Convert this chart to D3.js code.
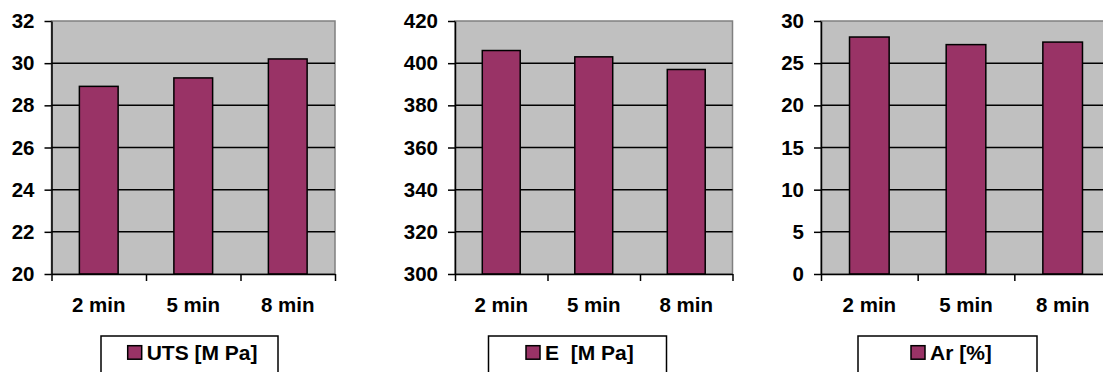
<!DOCTYPE html>
<html><head><meta charset="utf-8">
<script src="https://cdn.jsdelivr.net/npm/d3@7/dist/d3.min.js"></script>
<style>
body{margin:0;background:#fff}
svg{display:block}
text{font-family:"Liberation Sans",Arial,sans-serif;font-weight:bold;fill:#000;white-space:pre}
</style>
</head><body>
<svg id="c" width="1103" height="372"></svg>
<script>
// ---- data ----
const categories = ["2 min", "5 min", "8 min"];
const utsValues = [28.9, 29.3, 30.2];
const eValues = [406, 403, 397];
const arValues = [28.1, 27.2, 27.5];
const utsTicks = [20, 22, 24, 26, 28, 30, 32];
const eTicks = [300, 320, 340, 360, 380, 400, 420];
const arTicks = [0, 5, 10, 15, 20, 25, 30];
const seriesNames = ["UTS [M Pa]", "E  [M Pa]", "Ar [%]"];

// ---- layout ----
const TOP = 21, BOTTOM = 274, FS = 20.5, LFS = 21;
const panels = [
  {values: utsValues, ticks: utsTicks, name: seriesNames[0], x0: 51.5, x1: 335, lx0: 101, lx1: 278, sq: 127.7},
  {values: eValues, ticks: eTicks, name: seriesNames[1], x0: 455, x1: 732.5, lx0: 488.5, lx1: 666.5, sq: 526},
  {values: arValues, ticks: arTicks, name: seriesNames[2], x0: 821, x1: 1111, lx0: 858, lx1: 1037, sq: 911}
];
const BAR = "#993366", BG = "#c0c0c0", BORDER = "#808080";

const svg = d3.select("#c");

panels.forEach(p => {
  const g = svg.append("g");
  const x = d3.scaleBand().domain(categories).range([p.x0, p.x1]).paddingInner(0.59).paddingOuter(0.295);
  const xb = d3.scaleLinear().domain([0, categories.length]).range([p.x0, p.x1]);
  const y = d3.scaleLinear().domain(d3.extent(p.ticks)).range([BOTTOM, TOP]);

  // plot background
  g.append("rect").attr("x", p.x0).attr("y", TOP).attr("width", p.x1 - p.x0).attr("height", BOTTOM - TOP)
    .attr("fill", BG).attr("stroke", BORDER).attr("stroke-width", 1.5);

  // gridlines
  g.append("g").selectAll("line").data(p.ticks.slice(1, -1)).join("line")
    .attr("x1", p.x0).attr("x2", p.x1).attr("y1", d => y(d)).attr("y2", d => y(d))
    .attr("stroke", "#000").attr("stroke-width", 1.5);

  // bars
  g.append("g").selectAll("rect").data(p.values).join("rect")
    .attr("x", (d, i) => x(categories[i])).attr("width", x.bandwidth())
    .attr("y", d => y(d)).attr("height", d => BOTTOM - y(d))
    .attr("fill", BAR).attr("stroke", "#000").attr("stroke-width", 1.5);

  // y axis
  const ya = g.append("g").attr("transform", `translate(${p.x0},0)`)
    .call(d3.axisLeft(y).tickValues(p.ticks).tickSize(7).tickSizeOuter(0).tickPadding(10));
  ya.select(".domain").attr("stroke", "#000").attr("stroke-width", 1.5);
  ya.selectAll(".tick line").attr("stroke", "#000").attr("stroke-width", 1.5);
  ya.selectAll("text").style("font-size", FS + "px");

  // x axis boundary ticks
  const xt = g.append("g").attr("transform", `translate(0,${BOTTOM})`)
    .call(d3.axisBottom(xb).tickValues(d3.range(categories.length + 1)).tickSize(7).tickSizeOuter(0).tickFormat(""));
  xt.select(".domain").attr("stroke", "#000").attr("stroke-width", 1.5);
  xt.selectAll(".tick line").attr("stroke", "#000").attr("stroke-width", 1.5);

  // x labels
  const xl = g.append("g").attr("transform", `translate(0,${BOTTOM})`)
    .call(d3.axisBottom(x).tickSize(0).tickPadding(0));
  xl.select(".domain").remove();
  xl.selectAll("text").attr("y", 37.5).attr("dy", null).style("font-size", FS + "px");
  svg.selectAll("g[font-family]").attr("font-family", null).attr("font-size", null);

  // legend
  const lg = g.append("g");
  lg.append("rect").attr("x", p.lx0).attr("y", 336).attr("width", p.lx1 - p.lx0).attr("height", 60)
    .attr("fill", "#fff").attr("stroke", "#000").attr("stroke-width", 1.5);
  lg.append("rect").attr("x", p.sq).attr("y", 345.7).attr("width", 14).attr("height", 13.5)
    .attr("fill", BAR).attr("stroke", "#000").attr("stroke-width", 1.5);
  lg.append("text").attr("x", p.sq + 19).attr("y", 360).style("font-size", LFS + "px").text(p.name);
});
</script>
</body></html>
